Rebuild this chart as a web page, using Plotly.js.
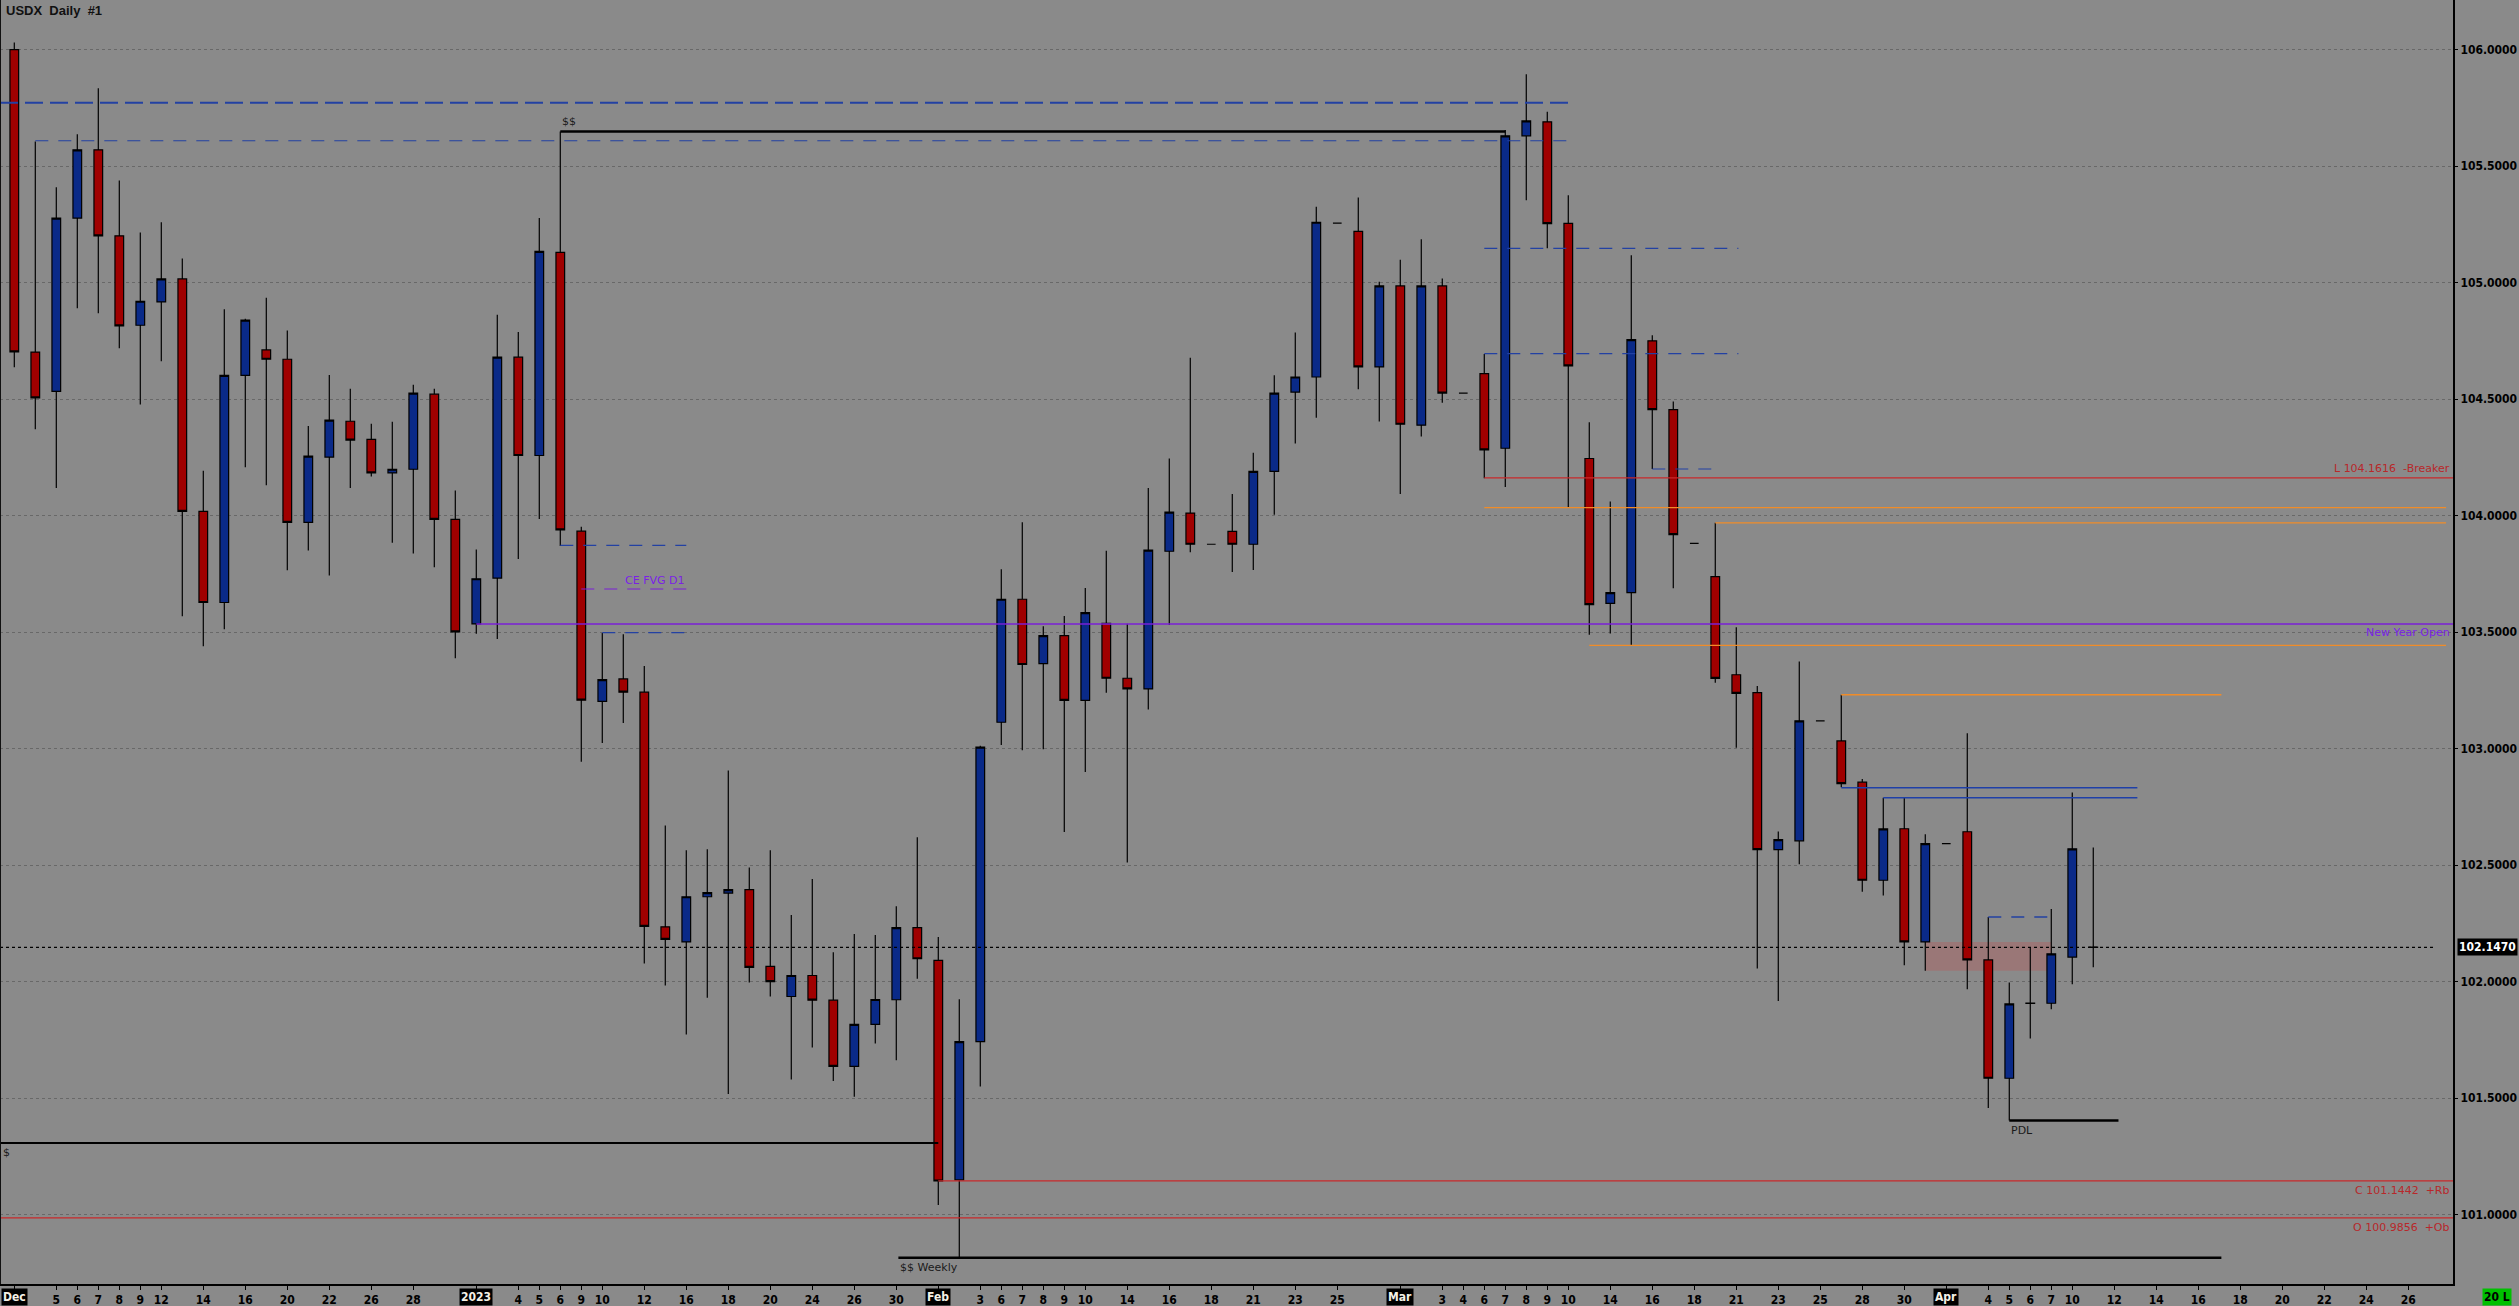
<!DOCTYPE html>
<html>
<head>
<meta charset="utf-8">
<script src="https://cdn.plot.ly/plotly-3.0.1.min.js"></script>
<style>
  html, body { margin: 0; padding: 0; background: #8a8a8a; }
  #chart { width: 2519px; height: 1306px; }
</style>
</head>
<body>
<div id="chart"></div>
<script>
// ---------------- DATA ----------------
const dates = [
  '2022-12-01','2022-12-02','2022-12-05','2022-12-06','2022-12-07','2022-12-08','2022-12-09','2022-12-12','2022-12-13','2022-12-14',
  '2022-12-15','2022-12-16','2022-12-19','2022-12-20','2022-12-21','2022-12-22','2022-12-23','2022-12-26','2022-12-27','2022-12-28',
  '2022-12-29','2022-12-30','2023-01-02','2023-01-03','2023-01-04','2023-01-05','2023-01-06','2023-01-09','2023-01-10','2023-01-11',
  '2023-01-12','2023-01-13','2023-01-16','2023-01-17','2023-01-18','2023-01-19','2023-01-20','2023-01-23','2023-01-24','2023-01-25',
  '2023-01-26','2023-01-27','2023-01-30','2023-01-31','2023-02-01','2023-02-02','2023-02-03','2023-02-06','2023-02-07','2023-02-08',
  '2023-02-09','2023-02-10','2023-02-13','2023-02-14','2023-02-15','2023-02-16','2023-02-17','2023-02-18','2023-02-20','2023-02-21',
  '2023-02-22','2023-02-23','2023-02-24','2023-02-25','2023-02-27','2023-02-28','2023-03-01','2023-03-02','2023-03-03','2023-03-04',
  '2023-03-06','2023-03-07','2023-03-08','2023-03-09','2023-03-10','2023-03-13','2023-03-14','2023-03-15','2023-03-16','2023-03-17',
  '2023-03-18','2023-03-20','2023-03-21','2023-03-22','2023-03-23','2023-03-24','2023-03-25','2023-03-27','2023-03-28','2023-03-29',
  '2023-03-30','2023-03-31','2023-04-01','2023-04-03','2023-04-04','2023-04-05','2023-04-06','2023-04-07','2023-04-10','2023-04-11'
];
const open = [
  106.000,104.702,104.533,105.277,105.570,105.201,104.817,104.917,105.016,104.018,
  103.627,104.602,104.711,104.671,103.971,104.251,104.405,104.327,104.183,104.199,
  104.521,103.984,103.535,103.732,104.680,104.258,105.130,103.933,103.203,103.299,
  103.242,102.235,102.170,102.364,102.380,102.395,102.065,101.936,102.026,101.920,
  101.636,101.816,101.922,102.232,102.091,101.149,101.742,103.113,103.641,103.365,
  103.485,103.207,103.538,103.302,103.256,103.847,104.011,103.877,103.932,103.877,
  104.190,104.530,104.595,105.255,105.220,104.638,104.986,104.388,104.986,104.526,
  104.609,104.289,105.630,105.690,105.254,104.245,103.623,103.669,104.750,104.455,
  103.881,103.738,103.317,103.240,102.566,102.604,103.119,103.033,102.856,102.435,
  102.656,102.170,102.592,102.643,102.093,101.585,101.906,101.907,102.105,102.148
];
const high = [
  106.031,105.606,105.409,105.637,105.834,105.438,105.215,105.259,105.103,104.192,
  104.886,104.845,104.935,104.794,104.385,104.604,104.544,104.394,104.403,104.562,
  104.544,104.108,103.855,104.862,104.788,105.277,105.649,103.952,103.496,103.491,
  103.355,102.670,102.564,102.568,102.906,102.490,102.564,102.286,102.440,102.126,
  102.204,102.200,102.323,102.620,102.191,101.924,103.012,103.770,103.972,103.525,
  103.569,103.689,103.849,103.536,104.118,104.245,104.678,103.877,104.093,104.270,
  104.602,104.786,105.326,105.255,105.365,105.004,105.098,105.186,105.018,104.526,
  104.694,105.655,105.894,105.733,105.375,104.401,104.060,105.117,104.774,104.490,
  103.881,103.969,103.521,103.269,102.644,103.374,103.119,103.231,102.869,102.789,
  102.788,102.632,102.592,103.066,102.277,101.996,102.148,102.312,102.812,102.576
];
const low = [
  104.637,104.371,104.118,104.890,104.868,104.718,104.477,104.662,103.568,103.439,
  103.512,104.208,104.130,103.765,103.850,103.743,104.118,104.168,103.884,103.837,
  103.778,103.388,103.493,103.470,103.814,103.985,103.870,102.944,103.024,103.110,
  102.078,101.983,101.773,101.931,101.517,101.996,101.936,101.580,101.717,101.573,
  101.506,101.734,101.662,102.012,101.041,100.815,101.550,103.015,102.993,102.997,
  102.642,102.899,103.240,102.511,103.168,103.530,103.843,103.877,103.758,103.767,
  104.004,104.310,104.420,105.255,104.542,104.404,104.093,104.340,104.484,104.526,
  104.160,104.123,105.354,105.147,104.036,103.489,103.494,103.443,104.200,103.688,
  103.881,103.283,103.004,102.056,101.917,102.504,103.119,102.834,102.386,102.370,
  102.070,102.047,102.592,101.967,101.457,101.404,101.756,101.881,101.989,102.062
];
const close = [
  104.703,104.505,105.277,105.570,105.201,104.814,104.920,105.016,104.018,103.627,
  104.602,104.839,104.671,103.971,104.255,104.410,104.324,104.183,104.199,104.526,
  103.984,103.501,103.729,104.680,104.258,105.134,103.939,103.208,103.296,103.242,
  102.237,102.181,102.364,102.382,102.395,102.061,102.000,102.026,101.920,101.636,
  101.816,101.923,102.232,102.098,101.144,101.742,103.006,103.641,103.361,103.485,
  103.207,103.584,103.302,103.256,103.852,104.015,103.877,103.877,103.877,104.190,
  104.526,104.595,105.259,105.255,104.638,104.986,104.392,104.986,104.526,104.526,
  104.282,105.630,105.694,105.253,104.643,103.618,103.669,104.755,104.455,103.918,
  103.881,103.301,103.237,102.566,102.609,103.119,103.119,102.850,102.435,102.655,
  102.170,102.592,102.592,102.093,101.585,101.904,101.908,102.119,102.570,102.147
];

// x-axis day labels (candle index -> label)
const tickIdx = [2,3,4,5,6,7,9,11,13,15,17,19,
  24,25,26,27,28,30,32,34,36,38,40,42,
  46,47,48,49,50,51,53,55,57,59,61,63,
  68,69,70,71,72,73,74,76,78,80,82,84,86,88,90,
  94,95,96,97,98,100,102,104,106,108,110,112,114];
const tickText = ['5','6','7','8','9','12','14','16','20','22','26','28',
  '4','5','6','9','10','12','16','18','20','24','26','30',
  '3','6','7','8','9','10','14','16','18','21','23','25',
  '3','4','6','7','8','9','10','14','16','18','21','23','25','28','30',
  '4','5','6','7','10','12','14','16','18','20','22','24','26'];
const monthIdx = [0, 22, 44, 66, 92];
const monthText = ['Dec', '2023', 'Feb', 'Mar', 'Apr'];

// horizontal levels: price, start index, end index (null = chart edge)
const levelPrice = [105.772,105.609,105.649,105.147,104.695,104.200,104.1616,104.034,103.969,103.443,103.231,
  103.535,103.685,103.872,103.498,101.307,101.1442,100.9856,100.815,102.832,102.789,102.277,101.404,102.147];
const levelFrom  = [null,1,26,70,70,78,70,70,81,75,87,
  22,27,26,28,null,44,null,42.1,87,89,94,95,null];
const levelTo    = [74.1,74.1,71,82.1,82.1,81.1,null,115.8,115.8,115.8,105.1,
  null,32,32,32,44,null,null,105.1,101.1,101.1,97,100.2,115.2];

// zone (box) from candle index to candle index, price range
const zoneX = [91, 97];
const zoneY = [102.046, 102.170];

const lastPrice = 102.1470;

// ---------------- STYLE ----------------
const X_MIN = -0.681, X_MAX = 116.13;
const Y_MIN = 100.702, Y_MAX = 106.213;
const BLUE = '#2341a3', RED = '#c8282a', ORANGE = '#f08c28', PURPLE = '#7a1fd6';
const levelColor = [BLUE,BLUE,'#000',BLUE,BLUE,BLUE,RED,ORANGE,ORANGE,ORANGE,ORANGE,
  PURPLE,PURPLE,BLUE,BLUE,'#000',RED,RED,'#000','#1f40a8','#1f40a8',BLUE,'#000','#000'];
const levelWidth = [2,1.2,2.5,1.2,1.2,1.2,1.3,1.3,1.3,1.3,1.3,
  1.6,1.2,1.2,1.2,2,1.3,1.3,2.5,1.5,1.5,1.5,2.5,1.2];
const DASH_L = '18px,7px', DASH_S = '13px,10px';
const levelDash = [DASH_L,DASH_S,'solid',DASH_S,DASH_S,DASH_S,'solid','solid','solid','solid','solid',
  'solid',DASH_S,DASH_S,DASH_S,'solid','solid','solid','solid','solid','solid',DASH_S,'solid','3px,3px'];

const shapes = levelPrice.map((p, k) => ({
  type: 'line', xref: 'x', yref: 'y',
  x0: levelFrom[k] === null ? X_MIN : levelFrom[k],
  x1: levelTo[k] === null ? X_MAX : levelTo[k],
  y0: p, y1: p,
  line: { color: levelColor[k], width: levelWidth[k], dash: levelDash[k] }
}));
shapes.unshift({
  type: 'rect', xref: 'x', yref: 'y', layer: 'below',
  x0: zoneX[0], x1: zoneX[1], y0: zoneY[0], y1: zoneY[1],
  fillcolor: 'rgba(190,80,80,0.32)', line: { width: 0 }
});
shapes.push({ type: 'line', xref: 'paper', yref: 'paper', x0: 0, x1: 0, y0: 0, y1: 1,
  line: { color: '#111', width: 2 } });

const LBL = { family: 'DejaVu Sans, Verdana, sans-serif', size: 11 };
const annotations = [
  { xref: 'paper', yref: 'paper', x: 0, y: 1, xanchor: 'left', yanchor: 'top', xshift: 4, yshift: -1,
    text: 'USDX\u00a0\u00a0Daily\u00a0\u00a0#1', showarrow: false,
    font: { family: 'Liberation Sans, Arial, sans-serif', size: 13, weight: 700, color: '#111' } },
  { xref: 'x', yref: 'y', x: 26, y: 105.649, xanchor: 'left', yanchor: 'bottom', yshift: 1,
    text: '$$', showarrow: false, font: Object.assign({}, LBL, { color: '#1a1a1a' }) },
  { xref: 'x', yref: 'y', x: 32, y: 103.685, xanchor: 'right', yanchor: 'bottom', yshift: 0,
    text: 'CE FVG D1', showarrow: false, font: Object.assign({}, LBL, { color: '#7a22e6' }) },
  { xref: 'paper', yref: 'y', x: 1, y: 103.497, xanchor: 'right', yanchor: 'middle', xshift: -1,
    text: 'New Year Open', showarrow: false, font: Object.assign({}, LBL, { color: '#7a22e6' }) },
  { xref: 'paper', yref: 'y', x: 1, y: 104.1616, xanchor: 'right', yanchor: 'bottom', xshift: -1, yshift: 1,
    text: 'L 104.1616\u00a0\u00a0-Breaker', showarrow: false, font: Object.assign({}, LBL, { color: '#b8282a' }) },
  { xref: 'paper', yref: 'y', x: 1, y: 101.1442, xanchor: 'right', yanchor: 'top', xshift: -1, yshift: -1,
    text: 'C 101.1442\u00a0\u00a0+Rb', showarrow: false, font: Object.assign({}, LBL, { color: '#b8282a' }) },
  { xref: 'paper', yref: 'y', x: 1, y: 100.9856, xanchor: 'right', yanchor: 'top', xshift: -1, yshift: -1,
    text: 'O 100.9856\u00a0\u00a0+Ob', showarrow: false, font: Object.assign({}, LBL, { color: '#b8282a' }) },
  { xref: 'paper', yref: 'y', x: 0, y: 101.307, xanchor: 'left', yanchor: 'top', xshift: 1, yshift: -1,
    text: '$', showarrow: false, font: Object.assign({}, LBL, { color: '#1a1a1a' }) },
  { xref: 'x', yref: 'y', x: 42.1, y: 100.815, xanchor: 'left', yanchor: 'top', yshift: -1,
    text: '$$ Weekly', showarrow: false, font: Object.assign({}, LBL, { color: '#1a1a1a' }) },
  { xref: 'x', yref: 'y', x: 95, y: 101.404, xanchor: 'left', yanchor: 'top', yshift: -2,
    text: 'PDL', showarrow: false, font: Object.assign({}, LBL, { color: '#1a1a1a' }) },
  { xref: 'paper', yref: 'y', x: 1, y: lastPrice, xanchor: 'left', yanchor: 'middle', xshift: 4,
    text: lastPrice.toFixed(4), showarrow: false, bgcolor: '#000', borderpad: 1,
    font: { family: 'DejaVu Sans Condensed, DejaVu Sans, sans-serif', size: 12, weight: 700, color: '#fff' } },
  { xref: 'paper', yref: 'paper', x: 1, y: 0, xanchor: 'left', yanchor: 'top', xshift: 29, yshift: -4,
    text: '20 L', showarrow: false, bgcolor: '#00c000', borderpad: 1,
    font: { family: 'DejaVu Sans Condensed, DejaVu Sans, sans-serif', size: 12, weight: 700, color: '#000' } }
];
monthIdx.forEach((m, k) => annotations.push({
  xref: 'x', yref: 'paper', x: m, y: 0, xanchor: 'center', yanchor: 'top', yshift: -4,
  text: monthText[k], showarrow: false, bgcolor: '#000', borderpad: 1,
  font: { family: 'DejaVu Sans Condensed, DejaVu Sans, sans-serif', size: 12, weight: 700, color: '#f4f0e6' }
}));

const xIdx = dates.map((d, i) => i);
const trace = {
  type: 'candlestick',
  x: xIdx, open: open, high: high, low: low, close: close,
  text: dates, hoverinfo: 'text',
  increasing: { line: { color: '#000', width: 1.2 }, fillcolor: '#0a2a88' },
  decreasing: { line: { color: '#000', width: 1.2 }, fillcolor: '#a00000' },
  whiskerwidth: 0,
  showlegend: false
};

const allTickVals = tickIdx.concat(monthIdx);
const allTickText = tickText.concat(monthIdx.map(() => ''));

const layout = {
  width: 2519, height: 1306,
  margin: { l: 0, r: 66, t: 0, b: 22, pad: 0 },
  paper_bgcolor: '#8a8a8a', plot_bgcolor: '#8a8a8a',
  boxgap: 0.41,
  showlegend: false,
  xaxis: {
    type: 'linear', range: [X_MIN, X_MAX],
    rangeslider: { visible: false },
    showgrid: false, zeroline: false,
    showline: true, linecolor: '#000', linewidth: 1.5,
    ticks: 'outside', ticklen: 4, tickcolor: '#000', tickwidth: 1,
    tickmode: 'array', tickvals: allTickVals, ticktext: allTickText,
    tickfont: { family: 'DejaVu Sans Condensed, DejaVu Sans, sans-serif', size: 12, weight: 700, color: '#000' }
  },
  yaxis: {
    side: 'right', range: [Y_MIN, Y_MAX],
    dtick: 0.5, tick0: 100, tickformat: '.4f',
    showgrid: true, gridcolor: '#686868', gridwidth: 1, griddash: '3px,3px',
    zeroline: false,
    showline: true, linecolor: '#000', linewidth: 2,
    ticks: 'outside', ticklen: 3, tickcolor: '#000',
    tickfont: { family: 'DejaVu Sans Condensed, DejaVu Sans, sans-serif', size: 12, weight: 700, color: '#000' }
  },
  shapes: shapes,
  annotations: annotations
};

Plotly.newPlot('chart', [trace], layout, { displayModeBar: false, staticPlot: true });
</script>
</body>
</html>
